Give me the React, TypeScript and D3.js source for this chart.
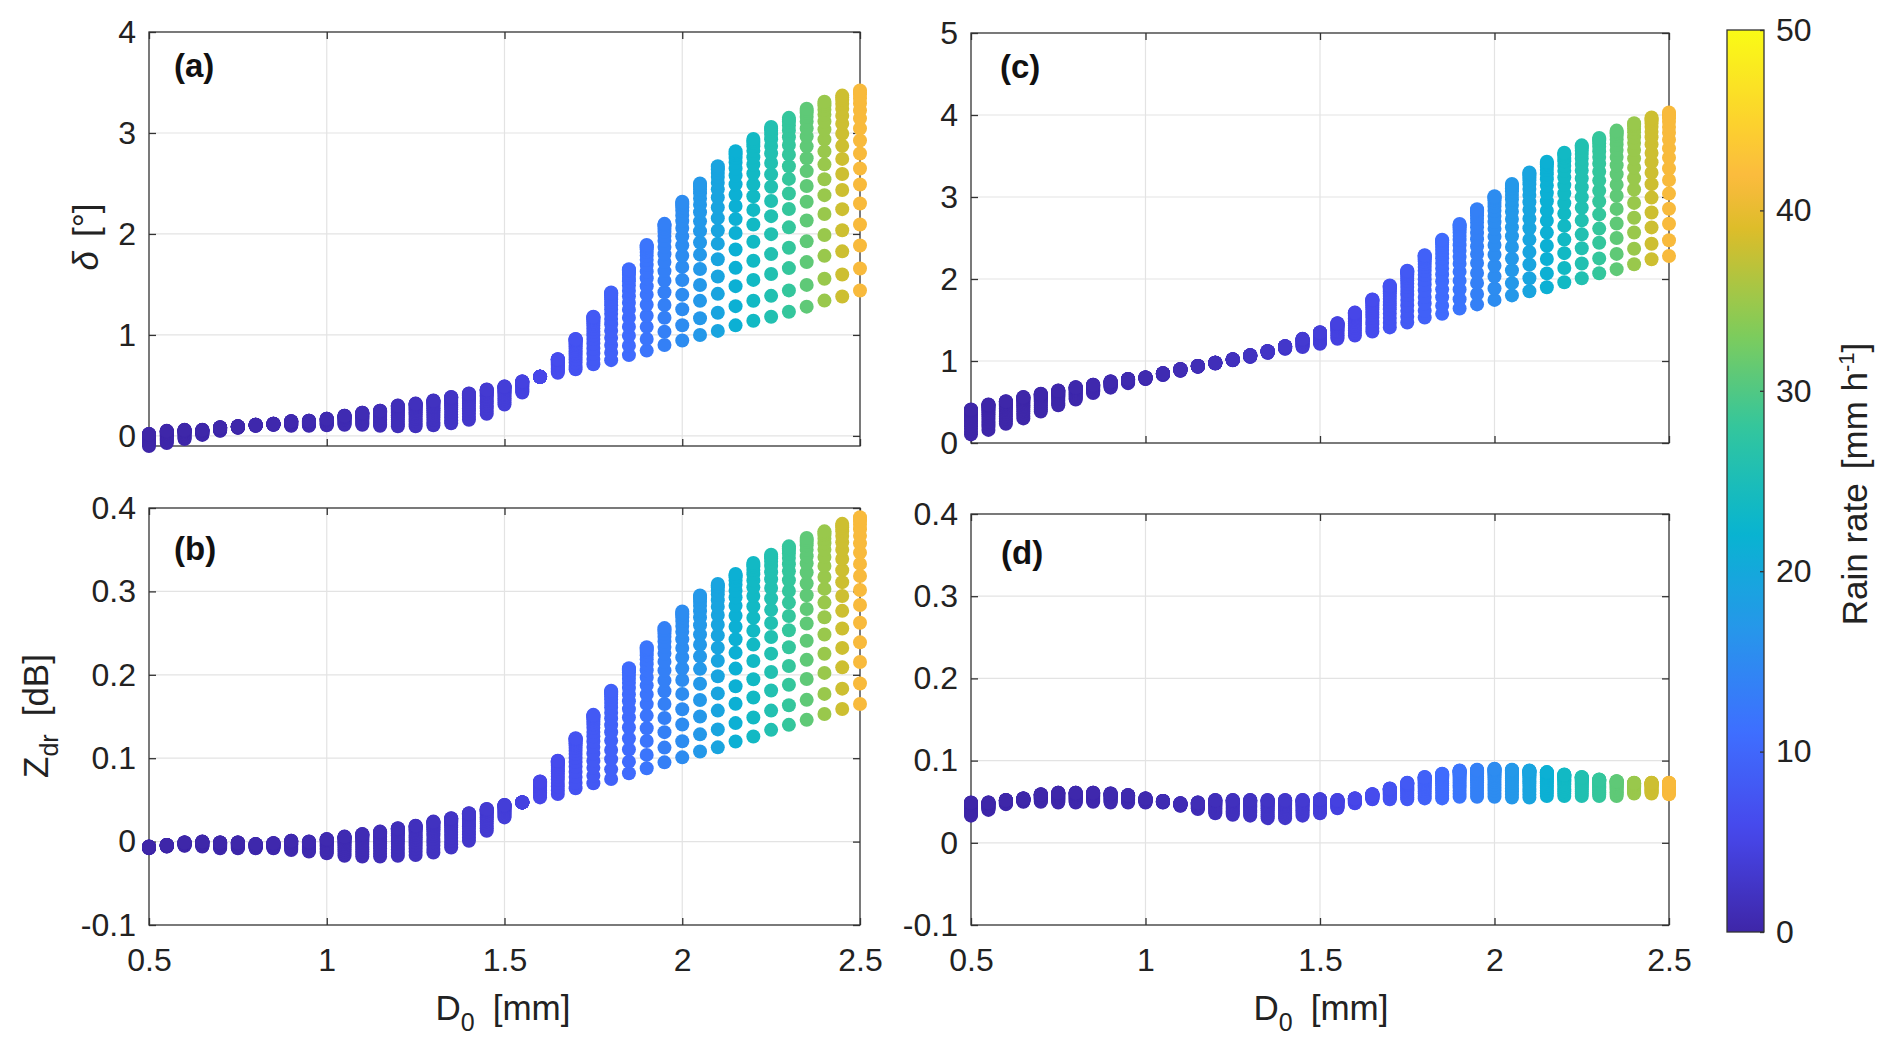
import { useRef, useEffect } from "react"
import * as d3 from "d3"

// D0 grid (mm), one column of points per value
const d0Values = [
  0.5, 0.55, 0.6, 0.65, 0.7, 0.75, 0.8, 0.85, 0.9, 0.95, 1, 1.05, 1.1, 1.15, 1.2, 1.25, 1.3, 1.35, 1.4, 1.45, 1.5,
  1.55, 1.6, 1.65, 1.7, 1.75, 1.8, 1.85, 1.9, 1.95, 2, 2.05, 2.1, 2.15, 2.2, 2.25, 2.3, 2.35, 2.4, 2.45, 2.5,
]

// rain rate (mm/h) of each column
const rainRate = [
  0.0, 0.05, 0.1, 0.1, 0.2, 0.2, 0.3, 0.4, 0.5, 0.6, 0.6, 0.8, 1.0, 1.2, 1.4, 1.7, 2.0, 2.4, 2.8, 3.4, 4.0, 4.6, 5.3,
  6.1, 7.1, 8.1, 9.2, 10.5, 11.9, 13.5, 15.2, 17.1, 19.2, 21.4, 23.6, 25.8, 28.0, 31.0, 34.8, 38.0, 41.5,
]

// relative spacing of points inside one column (bottom -> top), read from the widest column
const stackProfile = [0, 0.11, 0.225, 0.33, 0.435, 0.53, 0.61, 0.685, 0.75, 0.81, 0.86, 0.9, 0.935, 0.96, 0.98, 0.99, 1]

// (a) delta [deg]
const deltaLowA = [
  -0.1, -0.07, -0.03, 0.01, 0.05, 0.08, 0.1, 0.11, 0.1, 0.1, 0.105, 0.11, 0.11, 0.1, 0.095, 0.095, 0.105, 0.125, 0.16,
  0.22, 0.31, 0.43, 0.585, 0.625, 0.66, 0.71, 0.75, 0.8, 0.845, 0.9, 0.945, 1.0, 1.04, 1.095, 1.14, 1.18, 1.23, 1.28,
  1.34, 1.38, 1.44,
]
const deltaHighA = [
  0.02, 0.05, 0.06, 0.06, 0.085, 0.095, 0.11, 0.12, 0.145, 0.15, 0.17, 0.2, 0.23, 0.25, 0.3, 0.32, 0.35, 0.385, 0.42,
  0.46, 0.49, 0.54, 0.585, 0.76, 0.96, 1.18, 1.42, 1.65, 1.89, 2.1, 2.32, 2.5, 2.67, 2.82, 2.94, 3.06, 3.15, 3.24,
  3.31, 3.37, 3.42,
]

// (b) Zdr [dB]
const zdrLowB = [
  -0.008, -0.006, -0.005, -0.006, -0.008, -0.008, -0.008, -0.008, -0.01, -0.012, -0.014, -0.017, -0.018, -0.018,
  -0.017, -0.016, -0.013, -0.007, 0.001, 0.013, 0.029, 0.047, 0.053, 0.057, 0.064, 0.07, 0.075, 0.082, 0.088, 0.095,
  0.101, 0.108, 0.113, 0.12, 0.126, 0.134, 0.14, 0.146, 0.153, 0.159, 0.165,
]
const zdrHighB = [
  -0.006, -0.004, -0.001, 0.0, -0.001, -0.001, -0.003, -0.002, 0.001, 0.0, 0.003, 0.006, 0.009, 0.012, 0.016, 0.019,
  0.024, 0.028, 0.034, 0.039, 0.044, 0.047, 0.072, 0.097, 0.124, 0.152, 0.181, 0.208, 0.233, 0.256, 0.276, 0.295,
  0.309, 0.321, 0.334, 0.344, 0.354, 0.364, 0.372, 0.381, 0.389,
]

// (c) delta [deg]
const deltaLowC = [
  0.105, 0.16, 0.235, 0.3, 0.385, 0.46, 0.53, 0.61, 0.675, 0.73, 0.78, 0.83, 0.88, 0.93, 0.97, 1.01, 1.05, 1.1, 1.15,
  1.17, 1.21, 1.27, 1.31, 1.36, 1.41, 1.47, 1.53, 1.575, 1.64, 1.69, 1.745, 1.8, 1.85, 1.9, 1.96, 2.01, 2.07, 2.12,
  2.18, 2.24, 2.28,
]
const deltaHighC = [
  0.41, 0.47, 0.51, 0.56, 0.6, 0.64, 0.68, 0.71, 0.75, 0.78, 0.8, 0.85, 0.9, 0.94, 0.98, 1.02, 1.07, 1.12, 1.18, 1.27,
  1.35, 1.46, 1.59, 1.75, 1.92, 2.1, 2.29, 2.48, 2.67, 2.85, 3.01, 3.16, 3.3, 3.43, 3.54, 3.63, 3.72, 3.81, 3.9, 3.97,
  4.03,
]

// (d) Zdr [dB]
const zdrLowD = [
  0.033, 0.04, 0.047, 0.05, 0.05, 0.049, 0.049, 0.05, 0.049, 0.049, 0.049, 0.049, 0.045, 0.041, 0.036, 0.034, 0.033,
  0.03, 0.03, 0.033, 0.036, 0.042, 0.048, 0.053, 0.053, 0.053, 0.054, 0.054, 0.056, 0.056, 0.056, 0.055, 0.055, 0.057,
  0.057, 0.057, 0.057, 0.057, 0.06, 0.06, 0.059,
]
const zdrHighD = [
  0.049, 0.049, 0.052, 0.054, 0.059, 0.061, 0.061, 0.061, 0.06, 0.058, 0.054, 0.051, 0.048, 0.049, 0.052, 0.052, 0.052,
  0.052, 0.052, 0.052, 0.053, 0.052, 0.054, 0.059, 0.066, 0.073, 0.08, 0.084, 0.088, 0.089, 0.09, 0.089, 0.088, 0.086,
  0.083, 0.08, 0.077, 0.075, 0.073, 0.073, 0.073,
]

const xTicks = [0.5, 1, 1.5, 2, 2.5]
const deltaTicksA = [0, 1, 2, 3, 4]
const deltaTicksC = [0, 1, 2, 3, 4, 5]
const zdrTicks = [-0.1, 0, 0.1, 0.2, 0.3, 0.4]
const rainTicks = [0, 10, 20, 30, 40, 50]

// parula colormap
const parulaStops = [0, 0.111, 0.222, 0.333, 0.444, 0.556, 0.667, 0.778, 0.835, 0.889, 1]
const parulaColors = [
  "#3e26a8", "#4747eb", "#3e6fff", "#2796eb", "#08b4d0", "#31c69f", "#81cc59", "#dcbd29", "#fbba3e", "#fccf30",
  "#f9fb15",
]

const FONT = "'Liberation Sans', Arial, Helvetica, sans-serif"
const INK = "#222"
const TICK_FONT = 32
const LABEL_FONT = 35

type Panel = {
  tag: string
  left: number
  right: number
  top: number
  bottom: number
  yDomain: [number, number]
  yTicks: number[]
  low: number[]
  high: number[]
  xLabels: boolean
  tagX: number
  tagY: number
}

const panels: Panel[] = [
  { tag: "(a)", left: 149, right: 860, top: 32, bottom: 446, yDomain: [-0.1, 4], yTicks: deltaTicksA, low: deltaLowA, high: deltaHighA, xLabels: false, tagX: 174, tagY: 77 },
  { tag: "(b)", left: 149, right: 860, top: 508, bottom: 925, yDomain: [-0.1, 0.4], yTicks: zdrTicks, low: zdrLowB, high: zdrHighB, xLabels: true, tagX: 174, tagY: 560 },
  { tag: "(c)", left: 971, right: 1669, top: 33, bottom: 443, yDomain: [0, 5], yTicks: deltaTicksC, low: deltaLowC, high: deltaHighC, xLabels: false, tagX: 1000, tagY: 78 },
  { tag: "(d)", left: 971, right: 1669, top: 514, bottom: 925, yDomain: [-0.1, 0.4], yTicks: zdrTicks, low: zdrLowD, high: zdrHighD, xLabels: true, tagX: 1001, tagY: 564 },
]

export default function App() {
  const svgRef = useRef<SVGSVGElement | null>(null)

  useEffect(() => {
    if (!svgRef.current) return
    document.body.style.margin = "0"

    const svg = d3.select(svgRef.current)
    svg.selectAll("*").remove()

    const color = d3
      .scaleLinear<string>()
      .domain(parulaStops.map((t) => t * 50))
      .range(parulaColors)
      .interpolate(d3.interpolateRgb)
      .clamp(true)

    const fmt = (d: d3.NumberValue) => String(+d)

    panels.forEach((p) => {
      const x = d3.scaleLinear().domain([0.5, 2.5]).range([p.left, p.right])
      const y = d3.scaleLinear().domain(p.yDomain).range([p.bottom, p.top])
      const g = svg.append("g")

      // grid
      g.selectAll(".gx")
        .data(xTicks.slice(1, -1))
        .join("line")
        .attr("x1", (d) => x(d))
        .attr("x2", (d) => x(d))
        .attr("y1", p.top)
        .attr("y2", p.bottom)
        .attr("stroke", "#e3e3e3")
        .attr("stroke-width", 1.2)
      g.selectAll(".gy")
        .data(p.yTicks.filter((t) => t > p.yDomain[0] && t < p.yDomain[1]))
        .join("line")
        .attr("x1", p.left)
        .attr("x2", p.right)
        .attr("y1", (d) => y(d))
        .attr("y2", (d) => y(d))
        .attr("stroke", "#e3e3e3")
        .attr("stroke-width", 1.2)

      // axes with inward ticks on all four sides
      const styleAxis = (sel: d3.Selection<SVGGElement, unknown, null, undefined>) => {
        sel.select(".domain").remove()
        sel.selectAll(".tick line").attr("stroke", "#333").attr("stroke-width", 1.3)
        sel.selectAll(".tick text").attr("fill", INK).attr("font-size", TICK_FONT).attr("font-family", FONT)
      }
      g.append("g")
        .attr("transform", `translate(${p.left},0)`)
        .call(d3.axisLeft(y).tickValues(p.yTicks).tickSize(-7).tickPadding(13).tickFormat(fmt))
        .call(styleAxis)
      g.append("g")
        .attr("transform", `translate(${p.right},0)`)
        .call(d3.axisRight(y).tickValues(p.yTicks).tickSize(-7).tickFormat(() => ""))
        .call(styleAxis)
      g.append("g")
        .attr("transform", `translate(0,${p.bottom})`)
        .call(d3.axisBottom(x).tickValues(xTicks).tickSize(-7).tickPadding(23).tickFormat(p.xLabels ? fmt : () => ""))
        .call(styleAxis)
      g.append("g")
        .attr("transform", `translate(0,${p.top})`)
        .call(d3.axisTop(x).tickValues(xTicks).tickSize(-7).tickFormat(() => ""))
        .call(styleAxis)

      g.append("rect")
        .attr("x", p.left)
        .attr("y", p.top)
        .attr("width", p.right - p.left)
        .attr("height", p.bottom - p.top)
        .attr("fill", "none")
        .attr("stroke", "#333")
        .attr("stroke-width", 1.3)

      // points: one stack per D0 column
      const pts = d0Values.flatMap((d0, i) =>
        stackProfile.map((f) => ({
          d0,
          v: p.low[i] + f * (p.high[i] - p.low[i]),
          r: rainRate[i],
        })),
      )
      g.selectAll(".dot")
        .data(pts)
        .join("circle")
        .attr("cx", (d) => x(d.d0))
        .attr("cy", (d) => y(d.v))
        .attr("r", 7)
        .attr("fill", (d) => color(d.r))

      g.append("text")
        .attr("x", p.tagX)
        .attr("y", p.tagY)
        .attr("font-family", FONT)
        .attr("font-weight", "bold")
        .attr("font-size", 33)
        .attr("fill", "#111")
        .text(p.tag)
    })

    // axis titles
    const label = (xPos: number, yPos: number, rotate: boolean) =>
      svg
        .append("text")
        .attr("x", xPos)
        .attr("y", yPos)
        .attr("text-anchor", "middle")
        .attr("font-family", FONT)
        .attr("font-size", LABEL_FONT)
        .attr("fill", INK)
        .attr("transform", rotate ? `rotate(-90,${xPos},${yPos})` : null)

    ;[503, 1321].forEach((cx) => {
      const t = label(cx, 1020, false)
      t.append("tspan").text("D")
      t.append("tspan").attr("dy", 11).attr("font-size", 25).text("0")
      t.append("tspan").attr("dy", -11).attr("dx", 18).text("[mm]")
    })

    const dl = label(98, 237, true)
    dl.append("tspan").attr("font-style", "italic").text("δ")
    dl.append("tspan").attr("dx", 14).text("[°]")

    const zl = label(48, 716, true)
    zl.append("tspan").text("Z")
    zl.append("tspan").attr("dy", 10).attr("font-size", 25).text("dr")
    zl.append("tspan").attr("dy", -10).attr("dx", 18).text("[dB]")

    // colorbar
    const cb = { left: 1727, right: 1764, top: 30, bottom: 932 }
    const cScale = d3.scaleLinear().domain([0, 50]).range([cb.bottom, cb.top])
    const grad = svg
      .append("defs")
      .append("linearGradient")
      .attr("id", "parula")
      .attr("x1", 0)
      .attr("y1", 1)
      .attr("x2", 0)
      .attr("y2", 0)
    grad
      .selectAll("stop")
      .data(d3.range(0, 51))
      .join("stop")
      .attr("offset", (d) => d / 50)
      .attr("stop-color", (d) => color(d))

    svg
      .append("rect")
      .attr("x", cb.left)
      .attr("y", cb.top)
      .attr("width", cb.right - cb.left)
      .attr("height", cb.bottom - cb.top)
      .attr("fill", "url(#parula)")
      .attr("stroke", "#333")
      .attr("stroke-width", 1.3)

    const cAxis = svg
      .append("g")
      .attr("transform", `translate(${cb.right},0)`)
      .call(d3.axisRight(cScale).tickValues(rainTicks).tickSize(-4).tickPadding(12).tickFormat(fmt))
    cAxis.select(".domain").remove()
    cAxis.selectAll(".tick line").attr("stroke", "#333").attr("stroke-width", 1.3)
    cAxis.selectAll(".tick text").attr("fill", INK).attr("font-size", TICK_FONT).attr("font-family", FONT)

    const rl = label(1867, 484, true)
    rl.append("tspan").text("Rain rate")
    rl.append("tspan").attr("dx", 14).text("[mm h")
    rl.append("tspan").attr("dy", -13).attr("font-size", 22).text("-1")
    rl.append("tspan").attr("dy", 13).text("]")
  }, [])

  return (
    <svg
      ref={svgRef}
      width={1892}
      height={1060}
      style={{ position: "absolute", left: 0, top: 0, background: "white" }}
    ></svg>
  )
}
